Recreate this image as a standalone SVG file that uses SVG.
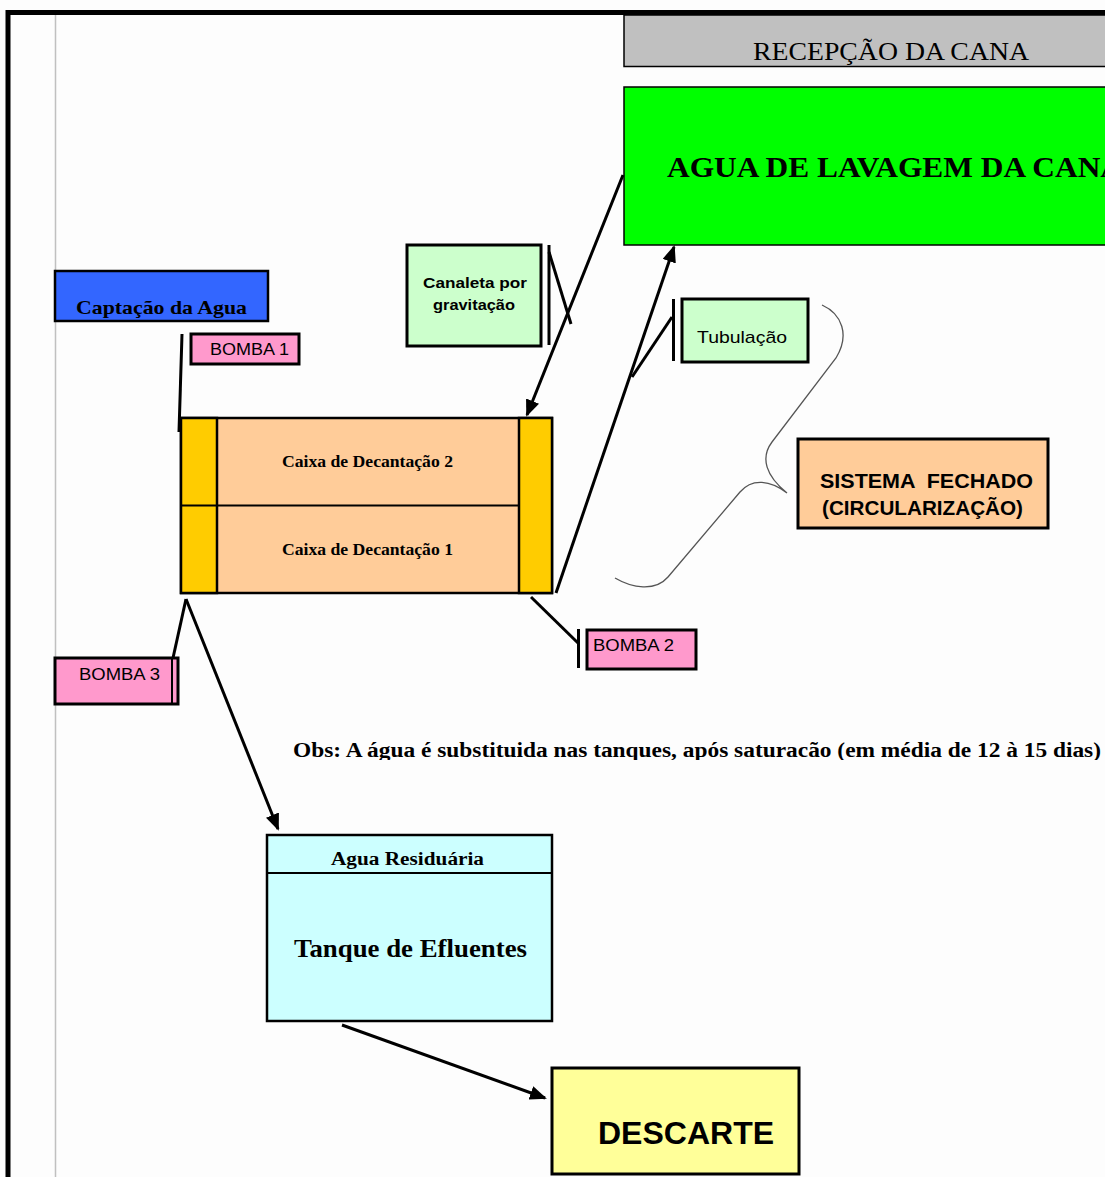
<svg xmlns="http://www.w3.org/2000/svg" width="1105" height="1177" viewBox="0 0 1105 1177">
  <defs>
    <style>
      .box { stroke: #000; stroke-width: 2.5; }
      .thin { stroke: #000; stroke-width: 1.5; }
      .serif { font-family: "Liberation Serif", "Times New Roman", serif; fill: #000; }
      .sans { font-family: "Liberation Sans", Arial, sans-serif; fill: #000; }
      .wire { stroke: #000; stroke-width: 3; fill: none; stroke-linecap: butt; }
      .bar { stroke: #000; stroke-width: 3; }
    </style>
    <marker id="head" markerUnits="userSpaceOnUse" markerWidth="17" markerHeight="14" refX="15" refY="7" orient="auto">
      <path d="M0,0 L17,7 L0,14 z" fill="#000"/>
    </marker>
    <clipPath id="obsClip">
      <rect x="280" y="730" width="825" height="30"/>
    </clipPath>
  </defs>

  <!-- page -->
  <rect x="0" y="0" width="1105" height="1177" fill="#fdfdfd"/>
  <line x1="55.5" y1="15" x2="55.5" y2="1177" stroke="#c0c0c0" stroke-width="1.5"/>
  <path d="M8,1177 L8,12.5 L1105,12.5" fill="none" stroke="#000" stroke-width="5"/>

  <!-- RECEPÇÃO DA CANA header -->
  <g id="recepcao">
    <rect x="624" y="15" width="490" height="51.5" fill="#c0c0c0" class="thin"/>
    <text x="753" y="60" class="serif" font-size="26" textLength="276" lengthAdjust="spacingAndGlyphs">RECEPÇÃO DA CANA</text>
  </g>

  <!-- wash water -->
  <g id="agua-lavagem">
    <rect x="624" y="87" width="490" height="158" fill="#00ff00" class="thin"/>
    <text x="667" y="177" class="serif" font-size="30" font-weight="bold" textLength="456" lengthAdjust="spacingAndGlyphs">AGUA DE LAVAGEM DA CANA</text>
  </g>

  <!-- intake -->
  <g id="captacao">
    <rect x="55" y="271" width="213" height="50" fill="#3366ff" class="box"/>
    <text x="76" y="314" class="serif" font-size="19" font-weight="bold" textLength="171" lengthAdjust="spacingAndGlyphs">Captação da Agua</text>
  </g>

  <g id="bomba1">
    <rect x="191" y="334" width="108" height="30" fill="#ff99cc" stroke="#000" stroke-width="3"/>
    <text x="210" y="355" class="sans" font-size="16" textLength="79" lengthAdjust="spacingAndGlyphs">BOMBA 1</text>
  </g>

  <g id="canaleta">
    <rect x="407" y="245" width="134" height="101" fill="#ccffcc" stroke="#000" stroke-width="3"/>
    <text x="423" y="288" class="sans" font-size="15" font-weight="bold" textLength="104" lengthAdjust="spacingAndGlyphs">Canaleta por</text>
    <text x="433" y="310" class="sans" font-size="15" font-weight="bold" textLength="82" lengthAdjust="spacingAndGlyphs">gravitação</text>
  </g>

  <g id="tubulacao">
    <rect x="682" y="299" width="126" height="63" fill="#ccffcc" stroke="#000" stroke-width="3"/>
    <text x="697" y="343" class="sans" font-size="17" textLength="90" lengthAdjust="spacingAndGlyphs">Tubulação</text>
  </g>

  <!-- settling tanks -->
  <g id="decantacao">
    <rect x="181" y="418" width="371" height="175" fill="#ffcc99" class="box"/>
    <rect x="181" y="418" width="36" height="175" fill="#ffcc00" class="box"/>
    <rect x="519" y="418" width="33" height="175" fill="#ffcc00" class="box"/>
    <line x1="181" y1="505.5" x2="519" y2="505.5" stroke="#000" stroke-width="2"/>
    <text x="282" y="467" class="serif" font-size="17" font-weight="bold" textLength="171" lengthAdjust="spacingAndGlyphs">Caixa de Decantação 2</text>
    <text x="282" y="555" class="serif" font-size="17" font-weight="bold" textLength="171" lengthAdjust="spacingAndGlyphs">Caixa de Decantação 1</text>
  </g>

  <g id="sistema-fechado">
    <rect x="798" y="439" width="250" height="89" fill="#ffcc99" stroke="#000" stroke-width="3"/>
    <text x="820" y="488" class="sans" font-size="20" font-weight="bold" xml:space="preserve" textLength="213" lengthAdjust="spacingAndGlyphs">SISTEMA  FECHADO</text>
    <text x="822" y="515" class="sans" font-size="20" font-weight="bold" textLength="201" lengthAdjust="spacingAndGlyphs">(CIRCULARIZAÇÃO)</text>
  </g>

  <g id="bomba2">
    <rect x="587" y="630" width="109" height="39" fill="#ff99cc" stroke="#000" stroke-width="3"/>
    <text x="593" y="651" class="sans" font-size="16" textLength="81" lengthAdjust="spacingAndGlyphs">BOMBA 2</text>
  </g>

  <g id="bomba3">
    <rect x="55" y="658" width="123" height="46" fill="#ff99cc" stroke="#000" stroke-width="3"/>
    <line x1="172" y1="659" x2="172" y2="703" stroke="#000" stroke-width="2"/>
    <text x="79" y="680" class="sans" font-size="16" textLength="81" lengthAdjust="spacingAndGlyphs">BOMBA 3</text>
  </g>

  <g id="obs">
    <text x="293" y="757" class="serif" font-size="20" font-weight="bold" textLength="808" lengthAdjust="spacingAndGlyphs" clip-path="url(#obsClip)">Obs: A água é substituida nas tanques, após saturacão (em média de 12 à 15 dias)</text>
  </g>

  <g id="tanque-efluentes">
    <rect x="267" y="835" width="285" height="186" fill="#ccffff" class="box"/>
    <line x1="267" y1="873" x2="552" y2="873" stroke="#000" stroke-width="2"/>
    <text x="331" y="865" class="serif" font-size="18" font-weight="bold" textLength="153" lengthAdjust="spacingAndGlyphs">Agua Residuária</text>
    <text x="294" y="957" class="serif" font-size="25" font-weight="bold" textLength="233" lengthAdjust="spacingAndGlyphs">Tanque de Efluentes</text>
  </g>

  <g id="descarte">
    <rect x="552" y="1068" width="247" height="106" fill="#ffff99" stroke="#000" stroke-width="3"/>
    <text x="598" y="1144" class="sans" font-size="32" font-weight="bold">DESCARTE</text>
  </g>

  <!-- connectors -->
  <g id="connectors">
    <line class="wire" x1="623" y1="175" x2="527" y2="415" marker-end="url(#head)"/>
    <line class="wire" x1="556" y1="593" x2="674" y2="247" marker-end="url(#head)"/>
    <line class="wire" x1="186" y1="599" x2="278" y2="829" marker-end="url(#head)"/>
    <line class="wire" x1="342" y1="1025" x2="545" y2="1098" marker-end="url(#head)"/>

    <!-- pump and callout leads -->
    <line class="wire" x1="182" y1="334" x2="179" y2="432"/>
    <line class="wire" x1="173" y1="658" x2="186" y2="599"/>
    <line class="wire" x1="531" y1="597" x2="578" y2="643"/>
    <line class="bar" x1="578.5" y1="629" x2="578.5" y2="668"/>
    <line class="bar" x1="549" y1="245" x2="549" y2="345"/>
    <line class="wire" x1="549" y1="252" x2="571" y2="324"/>
    <line class="bar" x1="673.5" y1="299" x2="673.5" y2="361"/>
    <line class="wire" x1="672" y1="317" x2="632" y2="377"/>

    <!-- brace around the closed loop -->
    <path d="M822,305 C842,314 850,335 836,358 L772,442 C760,458 766,476 787,493 C770,480 752,478 740,492 L668,577 C655,592 632,588 615,578" fill="none" stroke="#555" stroke-width="1.3"/>
  </g>
</svg>
